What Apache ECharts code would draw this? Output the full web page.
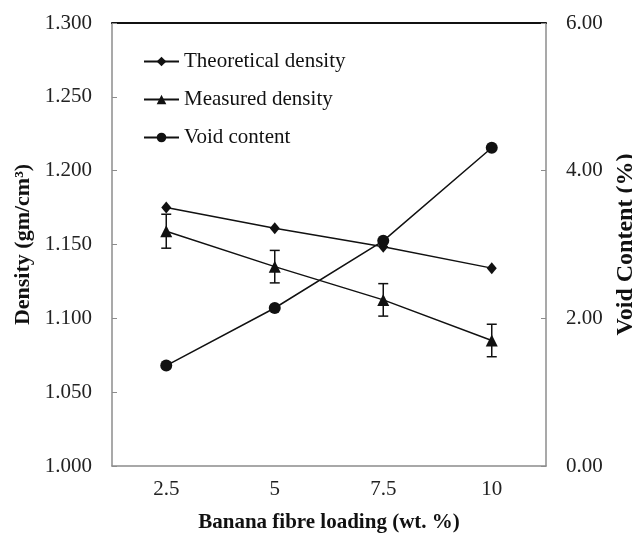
<!DOCTYPE html>
<html>
<head>
<meta charset="utf-8">
<script src="https://cdn.jsdelivr.net/npm/echarts@6/dist/echarts.min.js"></script>
<style>
html,body{margin:0;padding:0;background:#fff;}
#main{width:632px;height:533px;}
</style>
</head>
<body>
<div id="main"></div>
<script>
var loading = ['2.5', '5', '7.5', '10'];
var theoretical = [1.175, 1.161, 1.1485, 1.134];
var measured = [1.159, 1.135, 1.1125, 1.085];
var measuredErr = [0.0115, 0.011, 0.011, 0.011];
var voidContent = [1.36, 2.14, 3.05, 4.31];

var serif = 'Liberation Serif';

// error bar rows: [category index, low, high]
var errData = [];
for (var i = 0; i < loading.length; i++) {
    errData.push([i, measured[i] - measuredErr[i], measured[i] + measuredErr[i]]);
}

var myChart = echarts.init(document.getElementById('main'));
var option = {
    animation: false,
    grid: { left: 112, right: 86, top: 23, bottom: 67, outerBoundsMode: 'none' },
    legend: {
        orient: 'vertical',
        left: 143,
        top: 51,
        padding: 0,
        itemWidth: 35,
        itemHeight: 12,
        itemGap: 17,
        textStyle: { fontFamily: serif, fontSize: 21, color: '#111' },
        data: ['Theoretical density', 'Measured density', 'Void content']
    },
    xAxis: [
        {
            type: 'category',
            data: loading,
            name: 'Banana fibre loading (wt. %)',
            nameLocation: 'middle',
            nameGap: 46,
            nameTextStyle: { fontFamily: serif, fontSize: 21, fontWeight: 'bold', color: '#111' },
            axisLine: { lineStyle: { color: '#8c8c8c', width: 1.5 } },
            axisTick: { inside: true, length: 5, alignWithLabel: true, lineStyle: { color: '#8c8c8c' } },
            axisLabel: { fontFamily: serif, fontSize: 21, color: '#222', margin: 13 }
        },
        {
            type: 'category',
            data: loading,
            position: 'top',
            axisLine: { lineStyle: { color: '#111', width: 2 } },
            axisTick: { show: false },
            axisLabel: { show: false }
        }
    ],
    yAxis: [
        {
            type: 'value',
            min: 1.0,
            max: 1.3,
            interval: 0.05,
            name: 'Density (gm/cm³)',
            nameLocation: 'middle',
            nameGap: 68,
            nameTextStyle: { fontFamily: serif, fontSize: 22, fontWeight: 'bold', color: '#111' },
            axisLine: { show: true, lineStyle: { color: '#8c8c8c', width: 1.5 } },
            axisTick: { show: true, inside: true, length: 5, lineStyle: { color: '#8c8c8c' } },
            splitLine: { show: false },
            axisLabel: {
                fontFamily: serif, fontSize: 21, color: '#222', margin: 20,
                formatter: function (v) { return v.toFixed(3); }
            }
        },
        {
            type: 'value',
            min: 0,
            max: 6,
            interval: 2,
            name: 'Void Content (%)',
            nameLocation: 'middle',
            nameGap: 64,
            nameRotate: 90,
            nameTextStyle: { fontFamily: serif, fontSize: 24, fontWeight: 'bold', color: '#111' },
            axisLine: { show: true, lineStyle: { color: '#8c8c8c', width: 1.5 } },
            axisTick: { show: true, inside: true, length: 5, lineStyle: { color: '#8c8c8c' } },
            splitLine: { show: false },
            axisLabel: {
                fontFamily: serif, fontSize: 21, color: '#222', margin: 20,
                formatter: function (v) { return v.toFixed(2); }
            }
        }
    ],
    series: [
        {
            name: 'Theoretical density',
            type: 'line',
            yAxisIndex: 0,
            data: theoretical,
            symbol: 'diamond',
            symbolSize: [10, 12],
            itemStyle: { color: '#111' },
            lineStyle: { color: '#111', width: 1.5 }
        },
        {
            name: 'Measured density',
            type: 'line',
            yAxisIndex: 0,
            data: measured,
            symbol: 'triangle',
            symbolSize: 12,
            itemStyle: { color: '#111' },
            lineStyle: { color: '#111', width: 1.5 }
        },
        {
            name: 'measuredErr',
            type: 'custom',
            yAxisIndex: 0,
            data: errData,
            z: 3,
            renderItem: function (params, api) {//误差线
                var x = api.value(0);
                var lo = api.coord([x, api.value(1)]);
                var hi = api.coord([x, api.value(2)]);
                var w = 5;
                var st = { stroke: '#111', lineWidth: 1.5 };
                return {
                    type: 'group',
                    children: [
                        { type: 'line', shape: { x1: lo[0], y1: lo[1], x2: hi[0], y2: hi[1] }, style: st },
                        { type: 'line', shape: { x1: lo[0] - w, y1: lo[1], x2: lo[0] + w, y2: lo[1] }, style: st },
                        { type: 'line', shape: { x1: hi[0] - w, y1: hi[1], x2: hi[0] + w, y2: hi[1] }, style: st }
                    ]
                };
            }
        },
        {
            name: 'Void content',
            type: 'line',
            yAxisIndex: 1,
            data: voidContent,
            symbol: 'circle',
            symbolSize: 12,
            itemStyle: { color: '#111' },
            lineStyle: { color: '#111', width: 1.5 }
        }
    ]
};
myChart.setOption(option);
</script>
</body>
</html>
